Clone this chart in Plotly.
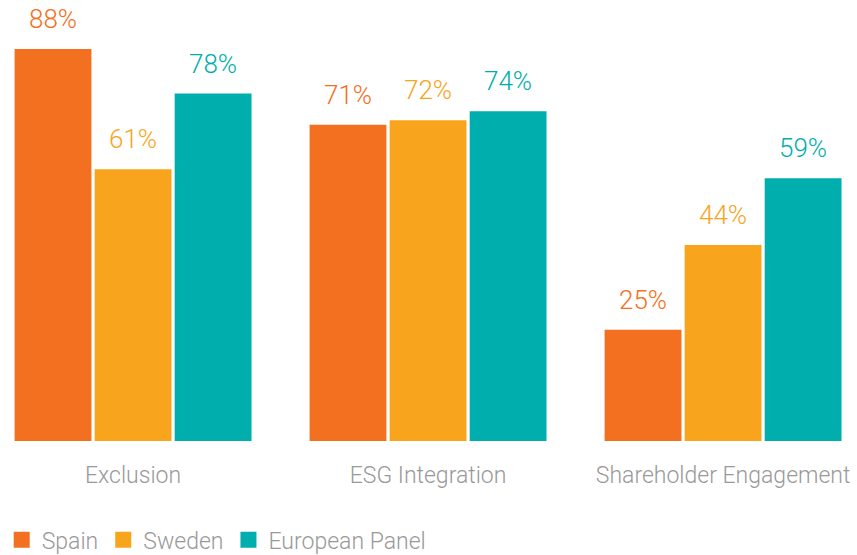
import plotly.graph_objects as go

categorias = ['Exclusion', 'ESG Integration', 'Shareholder Engagement']
spain = [88, 71, 25]
sweden = [61, 72, 44]
european_panel = [78, 74, 59]

series = [
    ('Spain', spain, '#F37021'),
    ('Sweden', sweden, '#F8A51D'),
    ('European Panel', european_panel, '#00AEAD'),
]

FONT = 'Roboto'
fig = go.Figure()

#barras
for nome, valores, cor in series:
    fig.add_trace(go.Bar(
        x=categorias,
        y=valores,
        name=nome,
        marker=dict(color=cor, line=dict(width=0)),
        showlegend=False,
        hoverinfo='skip'
    ))

#legenda com quadrados maiores
for nome, valores, cor in series:
    fig.add_trace(go.Scatter(
        x=[None], y=[None],
        mode='markers',
        name=nome,
        legendgroup=nome,
        marker=dict(symbol='square', size=18, color=cor)
    ))

#rotulos de valor
offsets = [-80, 0, 80]
for (nome, valores, cor), dx in zip(series, offsets):
    for cat, v in zip(categorias, valores):
        fig.add_annotation(
            x=cat, y=v, text=f'{v}%',
            showarrow=False, xshift=dx, yshift=13,
            yanchor='bottom',
            font=dict(family=FONT, size=26, color=cor, weight=300)
        )

fig.update_layout(
    barmode='group',
    bargap=0.186,
    bargroupgap=0.04,
    plot_bgcolor='white',
    paper_bgcolor='white',
    width=857,
    height=555,
    margin=dict(l=0, r=0, t=0, b=114, autoexpand=False),
    font=dict(family=FONT, color='#999999', weight=300),
    xaxis=dict(
        range=[-0.451, 2.454],
        automargin=False,
        showgrid=False, zeroline=False, showline=False,
        ticks='', tickfont=dict(size=23, color='#999999', weight=300),
        ticklabelstandoff=18
    ),
    yaxis=dict(
        range=[0, 99], visible=False, showgrid=False, zeroline=False
    ),
    legend=dict(
        orientation='h',
        x=0.002, xanchor='left',
        y=-0.224, yanchor='middle',
        font=dict(size=23, color='#999999', weight=300),
        itemsizing='trace',
        itemwidth=30,
        traceorder='grouped',
        tracegroupgap=22
    )
)

fig.write_html(
    'out.html',
    config={'displayModeBar': False},
    post_script="document.body.style.margin='0';document.body.style.overflow='hidden';"
)
